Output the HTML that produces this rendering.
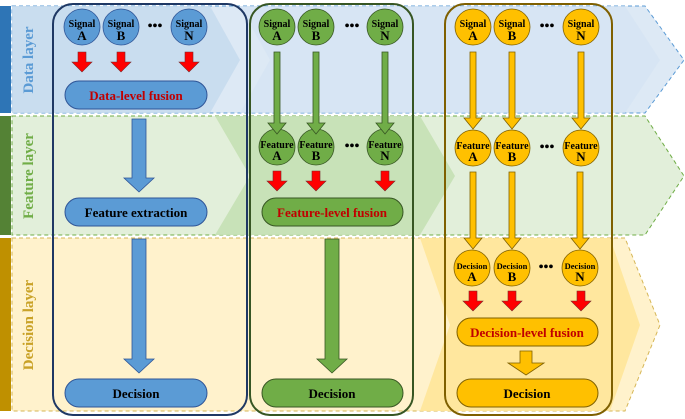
<!DOCTYPE html>
<html><head><meta charset="utf-8"><style>
html,body{margin:0;padding:0;background:#fff}
svg{display:block;font-family:"Liberation Serif",serif;font-weight:bold}
</style></head><body>
<svg width="685" height="419" viewBox="0 0 685 419" xmlns="http://www.w3.org/2000/svg">
<defs>
<g id="red"><path d="M-4,0 H4 V10 H10 L0,20 L-10,10 H-4 Z" fill="#ff0000" stroke="#7a2a2a" stroke-width="0.6"/></g>
</defs>
<path d="M12,6 H645 L684,60 L645,113 H12 Z" fill="#dde9f5" stroke="#5b9bd5" stroke-dasharray="4,3" stroke-width="1"/>
<path d="M12,6 H210 L240,60 L210,113 H12 Z" fill="#c4d9ee" opacity="0.8"/>
<path d="M240,6 H625 L660,60 L625,113 H240 L270,60 Z" fill="#d3e3f3" opacity="0.6"/>
<path d="M12,116 H645 L684,176 L645,235 H12 Z" fill="#e2efda" stroke="#70ad47" stroke-dasharray="4,3" stroke-width="1"/>
<path d="M215,116 H420 L455,176 L420,235 H215 L250,176 Z" fill="#c5e0b4" opacity="0.9"/>
<path d="M12,238 H625 L660,325 L625,411 H12 Z" fill="#fff2cc" stroke="#d6b656" stroke-dasharray="4,3" stroke-width="1"/>
<path d="M420,238 H610 L640,325 L610,411 H420 L450,325 Z" fill="#ffe699" opacity="0.9"/>
<rect x="0" y="6" width="11" height="107" fill="#2e75b6"/>
<rect x="0" y="116" width="11" height="119" fill="#548235"/>
<rect x="0" y="238" width="11" height="173" fill="#bf9000"/>
<text transform="translate(33,60) rotate(-90)" text-anchor="middle" font-size="15" fill="#5b9bd5">Data layer</text>
<text transform="translate(33,176) rotate(-90)" text-anchor="middle" font-size="15" fill="#70ad47">Feature layer</text>
<text transform="translate(33,325) rotate(-90)" text-anchor="middle" font-size="15" fill="#c9a227">Decision layer</text>
<rect x="53" y="4" width="194" height="411" rx="20" fill="none" stroke="#1f3864" stroke-width="2"/>
<rect x="250" y="4" width="163" height="411" rx="20" fill="none" stroke="#375623" stroke-width="2"/>
<rect x="445" y="4" width="167" height="411" rx="20" fill="none" stroke="#7f6000" stroke-width="2"/>

<g fill="#5b9bd5" stroke="#2f5597" stroke-width="0.8">
<circle cx="82" cy="27" r="18"/><circle cx="121" cy="27" r="18"/><circle cx="189" cy="27" r="18"/>
</g>
<g font-size="10" text-anchor="middle" fill="#000">
<text x="82" y="27">Signal</text><text x="121" y="27">Signal</text><text x="189" y="27">Signal</text>
</g>
<g font-size="13" text-anchor="middle" fill="#000">
<text x="82" y="40">A</text><text x="121" y="40">B</text><text x="189" y="40">N</text>
</g>
<text x="155" y="30" font-size="14" text-anchor="middle">•••</text>
<use href="#red" x="82" y="52"/><use href="#red" x="121" y="52"/><use href="#red" x="189" y="52"/>
<rect x="65" y="81" width="142" height="28" rx="14" fill="#5b9bd5" stroke="#2f5597"/>
<text x="136" y="100" font-size="13" text-anchor="middle" fill="#c00000">Data-level fusion</text>
<path d="M132,119 H146 V178 H154 L139,192 L124,178 H132 Z" fill="#5b9bd5" stroke="#2f5597" stroke-width="0.8"/>
<rect x="65" y="198" width="142" height="28" rx="14" fill="#5b9bd5" stroke="#2f5597"/>
<text x="136" y="217" font-size="13" text-anchor="middle" fill="#000">Feature extraction</text>
<path d="M132,239 H146 V359 H154 L139,373 L124,359 H132 Z" fill="#5b9bd5" stroke="#2f5597" stroke-width="0.8"/>
<rect x="65" y="379" width="142" height="28" rx="14" fill="#5b9bd5" stroke="#2f5597"/>
<text x="136" y="398" font-size="13" text-anchor="middle" fill="#000">Decision</text>

<g fill="#70ad47" stroke="#375623" stroke-width="0.8">
<circle cx="277" cy="27" r="18"/><circle cx="316" cy="27" r="18"/><circle cx="385" cy="27" r="18"/>
<circle cx="277" cy="147" r="18"/><circle cx="316" cy="147" r="18"/><circle cx="385" cy="147" r="18"/>
<path d="M274,52 H280 V123 H286 L277,134 L268,123 H274 Z"/>
<path d="M313,52 H319 V123 H325 L316,134 L307,123 H313 Z"/>
<path d="M382,52 H388 V123 H394 L385,134 L376,123 H382 Z"/>
</g>
<g font-size="10" text-anchor="middle" fill="#000">
<text x="277" y="27">Signal</text><text x="316" y="27">Signal</text><text x="385" y="27">Signal</text>
<text x="277" y="148">Feature</text><text x="316" y="148">Feature</text><text x="385" y="148">Feature</text>
</g>
<g font-size="13" text-anchor="middle" fill="#000">
<text x="277" y="40">A</text><text x="316" y="40">B</text><text x="385" y="40">N</text>
<text x="277" y="160">A</text><text x="316" y="160">B</text><text x="385" y="160">N</text>
</g>
<text x="352" y="30" font-size="14" text-anchor="middle">•••</text>
<text x="352" y="150" font-size="14" text-anchor="middle">•••</text>
<use href="#red" x="277" y="171"/><use href="#red" x="316" y="171"/><use href="#red" x="385" y="171"/>
<rect x="262" y="198" width="141" height="28" rx="14" fill="#70ad47" stroke="#375623"/>
<text x="332" y="217" font-size="13" text-anchor="middle" fill="#c00000">Feature-level fusion</text>
<path d="M325,239 H339 V359 H347 L332,373 L317,359 H325 Z" fill="#70ad47" stroke="#375623" stroke-width="0.8"/>
<rect x="262" y="379" width="141" height="28" rx="14" fill="#70ad47" stroke="#375623"/>
<text x="332" y="398" font-size="13" text-anchor="middle" fill="#000">Decision</text>

<g fill="#ffc000" stroke="#7f6000" stroke-width="0.8">
<circle cx="473" cy="27" r="18"/><circle cx="512" cy="27" r="18"/><circle cx="581" cy="27" r="18"/>
<circle cx="473" cy="148" r="18"/><circle cx="512" cy="148" r="18"/><circle cx="581" cy="148" r="18"/>
<circle cx="472" cy="268" r="18"/><circle cx="512" cy="268" r="18"/><circle cx="580" cy="268" r="18"/>
<path d="M470,52 H476 V118 H482 L473,129 L464,118 H470 Z"/>
<path d="M509,52 H515 V118 H521 L512,129 L503,118 H509 Z"/>
<path d="M578,52 H584 V118 H590 L581,129 L572,118 H578 Z"/>
<path d="M470,172 H476 V238 H482 L473,249 L464,238 H470 Z"/>
<path d="M509,172 H515 V238 H521 L512,249 L503,238 H509 Z"/>
<path d="M577,172 H583 V238 H589 L580,249 L571,238 H577 Z"/>
<path d="M520,351 H532 V363 H544 L526,375 L508,363 H520 Z"/>
</g>
<g font-size="10" text-anchor="middle" fill="#000">
<text x="473" y="27">Signal</text><text x="512" y="27">Signal</text><text x="581" y="27">Signal</text>
<text x="473" y="149">Feature</text><text x="512" y="149">Feature</text><text x="581" y="149">Feature</text>
</g>
<g font-size="8.5" text-anchor="middle" fill="#000">
<text x="472" y="269">Decision</text><text x="512" y="269">Decision</text><text x="580" y="269">Decision</text>
</g>
<g font-size="13" text-anchor="middle" fill="#000">
<text x="473" y="40">A</text><text x="512" y="40">B</text><text x="581" y="40">N</text>
<text x="473" y="161">A</text><text x="512" y="161">B</text><text x="581" y="161">N</text>
<text x="472" y="281">A</text><text x="512" y="281">B</text><text x="580" y="281">N</text>
</g>
<text x="547" y="30" font-size="14" text-anchor="middle">•••</text>
<text x="547" y="151" font-size="14" text-anchor="middle">•••</text>
<text x="546" y="271" font-size="14" text-anchor="middle">•••</text>
<use href="#red" x="473" y="291"/><use href="#red" x="512" y="291"/><use href="#red" x="581" y="291"/>
<rect x="457" y="318" width="141" height="28" rx="14" fill="#ffc000" stroke="#7f6000"/>
<text x="527" y="337" font-size="13" text-anchor="middle" fill="#c00000">Decision-level fusion</text>
<rect x="457" y="379" width="141" height="28" rx="14" fill="#ffc000" stroke="#7f6000"/>
<text x="527" y="398" font-size="13" text-anchor="middle" fill="#000">Decision</text>
</svg>
</body></html>
